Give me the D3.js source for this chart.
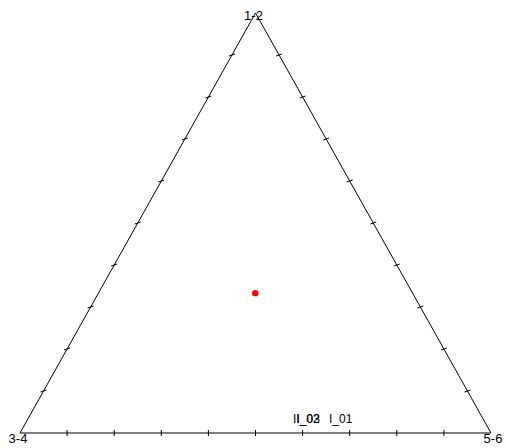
<!DOCTYPE html>
<html>
<head>
<meta charset="utf-8">
<script src="https://cdn.jsdelivr.net/npm/d3@7"></script>
<style>
  html, body { margin: 0; padding: 0; background: #fff; }
  svg { display: block; font-family: "Liberation Sans", Arial, sans-serif; }
</style>
</head>
<body>
<svg id="chart" width="506" height="448"></svg>
<script>
// ---- data ----
const vertexLabels = ["1-2", "3-4", "5-6"];          // top, left, right
const tickFractions = [0.1, 0.2, 0.3, 0.4, 0.5, 0.6, 0.7, 0.8, 0.9];
const pointTop   = [0.333];   // share of "1-2"
const pointLeft  = [0.334];   // share of "3-4"
const pointRight = [0.333];   // share of "5-6"
const sampleLabels = ["II_02", "I_03", "I_01"];

(function () {
// ---- layout ----
const svg = d3.select("#chart");
const xS = d3.scaleLinear().domain([0, 1]).range([20, 491]);
const yS = d3.scaleLinear().domain([0, 1]).range([433, 13]);

// ternary -> pixel (t: top, r: right)
function tern(t, r) { return [xS(r + t / 2), yS(t)]; }

const vTop = tern(1, 0), vLeft = tern(0, 0), vRight = tern(0, 1);

// frame
svg.append("path")
  .attr("d", d3.line()([vLeft, vTop, vRight, vLeft]))
  .attr("fill", "none").attr("stroke", "#000").attr("stroke-width", 1);

const g = svg.append("g").attr("stroke", "#000").attr("stroke-width", 1);
// bottom edge ticks (vertical)
tickFractions.forEach(f => {
  const [x, y] = tern(0, f);
  g.append("line").attr("x1", x).attr("x2", x).attr("y1", y - 3).attr("y2", y + 3);
});
// left edge ticks
tickFractions.forEach(f => {
  const [x, y] = tern(f, 0);
  g.append("line").attr("x1", x - 3).attr("x2", x + 3).attr("y1", y + 1).attr("y2", y - 1);
});
// right edge ticks
tickFractions.forEach(f => {
  const [x, y] = tern(f, 1 - f);
  g.append("line").attr("x1", x - 3).attr("x2", x + 3).attr("y1", y + 1).attr("y2", y - 1);
});

// vertex labels
const corners = [vTop, vLeft, vRight];
const dy = [7, 10, 10], dx = [-2, -2, 2];
vertexLabels.forEach((lab, i) => {
  svg.append("text")
    .attr("x", corners[i][0] + dx[i]).attr("y", corners[i][1] + dy[i])
    .attr("text-anchor", "middle").attr("font-size", 13).attr("fill", "#000")
    .text(lab);
});

// points
pointTop.forEach((t, i) => {
  const [x, y] = tern(t, pointRight[i]);
  svg.append("circle").attr("cx", x).attr("cy", y).attr("r", 3.2).attr("fill", "#ff0000");
});

// sample labels (overlapping, as in the source)
const labX = [293, 296.5, 329];
sampleLabels.forEach((lab, i) => {
  svg.append("text")
    .attr("x", labX[i]).attr("y", 423)
    .attr("font-size", 12).attr("fill", "#000")
    .text(lab);
});
})();
</script>
</body>
</html>
